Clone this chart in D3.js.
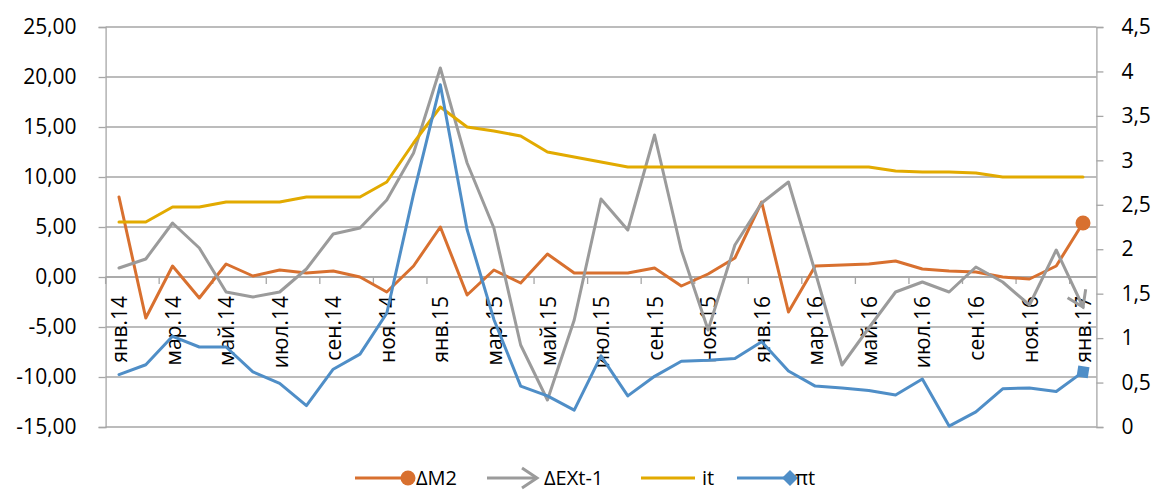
<!DOCTYPE html>
<html>
<head>
<meta charset="utf-8">
<script src="https://cdn.jsdelivr.net/npm/d3@7"></script>
<style>
  html, body { margin: 0; padding: 0; background: #fff; }
  svg { display: block; font-family: "Open Sans", "Noto Sans", sans-serif; }
</style>
</head>
<body>
<svg id="chart" width="1157" height="492"></svg>
<script>
// Monthly categories, Jan 2014 – Jan 2017
const months = ["янв","фев","мар","апр","май","июн","июл","авг","сен","окт","ноя","дек"];
const categories = [];
for (const yr of ["14", "15", "16"]) for (const m of months) categories.push(m + "." + yr);
categories.push("янв.17");

// Left-axis series
const dM2 = [8.0, -4.1, 1.1, -2.1, 1.3, 0.1, 0.7, 0.4, 0.6, 0.0, -1.5, 1.1,
             5.0, -1.8, 0.7, -0.6, 2.3, 0.4, 0.4, 0.4, 0.9, -0.9, 0.3, 1.9,
             7.5, -3.5, 1.1, 1.2, 1.3, 1.6, 0.8, 0.6, 0.5, 0.0, -0.2, 1.1, 5.4];
const dEX = [0.9, 1.8, 5.4, 2.9, -1.5, -2.0, -1.5, 0.8, 4.3, 4.9, 7.7, 12.4,
             20.9, 11.4, 4.9, -6.8, -12.3, -4.3, 7.8, 4.7, 14.2, 2.7, -5.3, 3.2,
             7.4, 9.5, 0.5, -8.8, -5.1, -1.5, -0.5, -1.5, 1.0, -0.5, -2.8, 2.7, -3.0];
const rate = [5.5, 5.5, 7.0, 7.0, 7.5, 7.5, 7.5, 8.0, 8.0, 8.0, 9.5, 13.4,
              17.0, 15.0, 14.6, 14.1, 12.5, 12.0, 11.5, 11.0, 11.0, 11.0, 11.0, 11.0,
              11.0, 11.0, 11.0, 11.0, 11.0, 10.6, 10.5, 10.5, 10.4, 10.0, 10.0, 10.0, 10.0];
// Right-axis series
const cpi = [0.59, 0.70, 1.02, 0.90, 0.90, 0.62, 0.49, 0.24, 0.65, 0.82, 1.28, 2.62,
             3.85, 2.22, 1.21, 0.46, 0.35, 0.19, 0.80, 0.35, 0.57, 0.74, 0.75, 0.77,
             0.96, 0.63, 0.46, 0.44, 0.41, 0.36, 0.54, 0.01, 0.17, 0.43, 0.44, 0.40, 0.62];

const leftTicks = [-15, -10, -5, 0, 5, 10, 15, 20, 25];
const rightTicks = [0, 0.5, 1, 1.5, 2, 2.5, 3, 3.5, 4, 4.5];
const seriesNames = ["ΔM2", "ΔEXt-1", "it", "πt"];

const colors = { m2: "#d8702f", ex: "#9b9b9b", rate: "#e2aa00", cpi: "#4f8ec7" };
const gridColor = "#a6a6a6";
const fontSize = 21;

const svg = d3.select("#chart");
const plot = { left: 105.6, right: 1096.4, top: 27, bottom: 427 };

const x = d3.scalePoint().domain(categories).range([plot.left, plot.right]).padding(0.5);
const step = x.step();
const yL = d3.scaleLinear().domain([-15, 25]).range([plot.bottom, plot.top]);
const yR = d3.scaleLinear().domain([0, 4.5]).range([plot.bottom, plot.top]);

const loc = d3.formatLocale({ decimal: ",", thousands: " ", grouping: [3], currency: ["", ""], minus: "-" });
const fmtL = loc.format(".2f");
const fmtR = loc.format("~g");

// Markers for line ends
const defs = svg.append("defs");
defs.append("marker").attr("id", "endCircle")
  .attr("viewBox", "-9 -9 18 18").attr("markerWidth", 18).attr("markerHeight", 18)
  .attr("markerUnits", "userSpaceOnUse").attr("refX", 0).attr("refY", 0)
  .append("circle").attr("r", 7.5).attr("fill", colors.m2);
defs.append("marker").attr("id", "endArrow")
  .attr("viewBox", "-20 -13 24 26").attr("markerWidth", 24).attr("markerHeight", 26)
  .attr("markerUnits", "userSpaceOnUse").attr("refX", 0).attr("refY", 0).attr("orient", "auto")
  .append("path").attr("d", "M-15,-10 L0,0 L-15,10").attr("fill", "none")
  .attr("stroke", colors.ex).attr("stroke-width", 3).attr("stroke-linejoin", "miter");
defs.append("marker").attr("id", "endDiamond")
  .attr("viewBox", "-9 -9 18 18").attr("markerWidth", 18).attr("markerHeight", 18)
  .attr("markerUnits", "userSpaceOnUse").attr("refX", 0).attr("refY", 0).attr("orient", "auto")
  .append("path").attr("d", "M-8,0 L0,-8 L8,0 L0,8Z").attr("fill", colors.cpi);

// Horizontal gridlines
svg.append("g").selectAll("line").data(leftTicks).join("line")
  .attr("x1", plot.left).attr("x2", plot.right)
  .attr("y1", d => yL(d)).attr("y2", d => yL(d))
  .attr("stroke", gridColor).attr("stroke-width", 1.3);

// Left axis
const gL = svg.append("g").attr("transform", `translate(${plot.left},0)`)
  .call(d3.axisLeft(yL).tickValues(leftTicks).tickFormat(fmtL).tickSize(7).tickPadding(22));
gL.select(".domain").attr("stroke", gridColor).attr("stroke-width", 1.3);
gL.selectAll(".tick line").attr("stroke", gridColor).attr("stroke-width", 1.3);
gL.selectAll(".tick text").attr("font-size", fontSize).attr("fill", "#000")
  .attr("font-family", "Open Sans, sans-serif");

// Right axis
const gR = svg.append("g").attr("transform", `translate(${plot.right},0)`)
  .call(d3.axisRight(yR).tickValues(rightTicks).tickFormat(fmtR).tickSize(7).tickPadding(18));
gR.select(".domain").attr("stroke", gridColor).attr("stroke-width", 1.3);
gR.selectAll(".tick line").attr("stroke", gridColor).attr("stroke-width", 1.3);
gR.selectAll(".tick text").attr("font-size", fontSize).attr("fill", "#000")
  .attr("font-family", "Open Sans, sans-serif");

// Category axis along zero line
const y0 = yL(0);
const labelCats = categories.filter((d, i) => i % 2 === 0);
const gX = svg.append("g").attr("transform", `translate(0,${y0})`)
  .call(d3.axisBottom(x).tickValues(labelCats).tickSize(0).tickPadding(0));
gX.select(".domain").remove();
gX.selectAll(".tick text")
  .attr("font-size", fontSize).attr("fill", "#000").attr("font-family", "Open Sans, sans-serif")
  .attr("text-anchor", "end").attr("transform", "translate(0,19) rotate(-90)")
  .attr("x", 0).attr("y", 0).attr("dy", "0.36em");
svg.append("line").attr("x1", plot.left).attr("x2", plot.right)
  .attr("y1", y0).attr("y2", y0).attr("stroke", gridColor).attr("stroke-width", 1.3);
svg.append("g").selectAll("line").data(labelCats).join("line")
  .attr("x1", d => x(d) - step / 2).attr("x2", d => x(d) - step / 2)
  .attr("y1", y0).attr("y2", y0 + 7)
  .attr("stroke", gridColor).attr("stroke-width", 1.3);

// Series lines
const lineL = d3.line().x((d, i) => x(categories[i])).y(d => yL(d));
const lineR = d3.line().x((d, i) => x(categories[i])).y(d => yR(d));
function drawSeries(values, gen, color, marker) {
  const p = svg.append("path").datum(values).attr("d", gen)
    .attr("fill", "none").attr("stroke", color).attr("stroke-width", 3)
    .attr("stroke-linejoin", "round").attr("stroke-linecap", "round");
  if (marker) p.attr("marker-end", `url(#${marker})`);
}
drawSeries(dM2, lineL, colors.m2, "endCircle");
drawSeries(dEX, lineL, colors.ex, "endArrow");
drawSeries(rate, lineL, colors.rate, null);
drawSeries(cpi, lineR, colors.cpi, "endDiamond");

// Legend
const legendY = 478;
const legendItems = [
  { name: seriesNames[0], color: colors.m2, marker: "endCircle", x1: 355, x2: 408, tx: 416 },
  { name: seriesNames[1], color: colors.ex, marker: "endArrow", x1: 487, x2: 537, tx: 544 },
  { name: seriesNames[2], color: colors.rate, marker: null, x1: 641, x2: 695, tx: 702 },
  { name: seriesNames[3], color: colors.cpi, marker: "endDiamond", x1: 737, x2: 790, tx: 795 }
];
const lg = svg.append("g");
legendItems.forEach(it => {
  const p = lg.append("path").attr("d", `M${it.x1},${legendY}L${it.x2},${legendY}`)
    .attr("stroke", it.color).attr("stroke-width", 3).attr("fill", "none");
  if (it.marker) p.attr("marker-end", `url(#${it.marker})`);
  lg.append("text").attr("x", it.tx).attr("y", legendY).attr("dy", "0.36em")
    .attr("font-size", 20).attr("fill", "#000").text(it.name);
});
</script>
</body>
</html>
